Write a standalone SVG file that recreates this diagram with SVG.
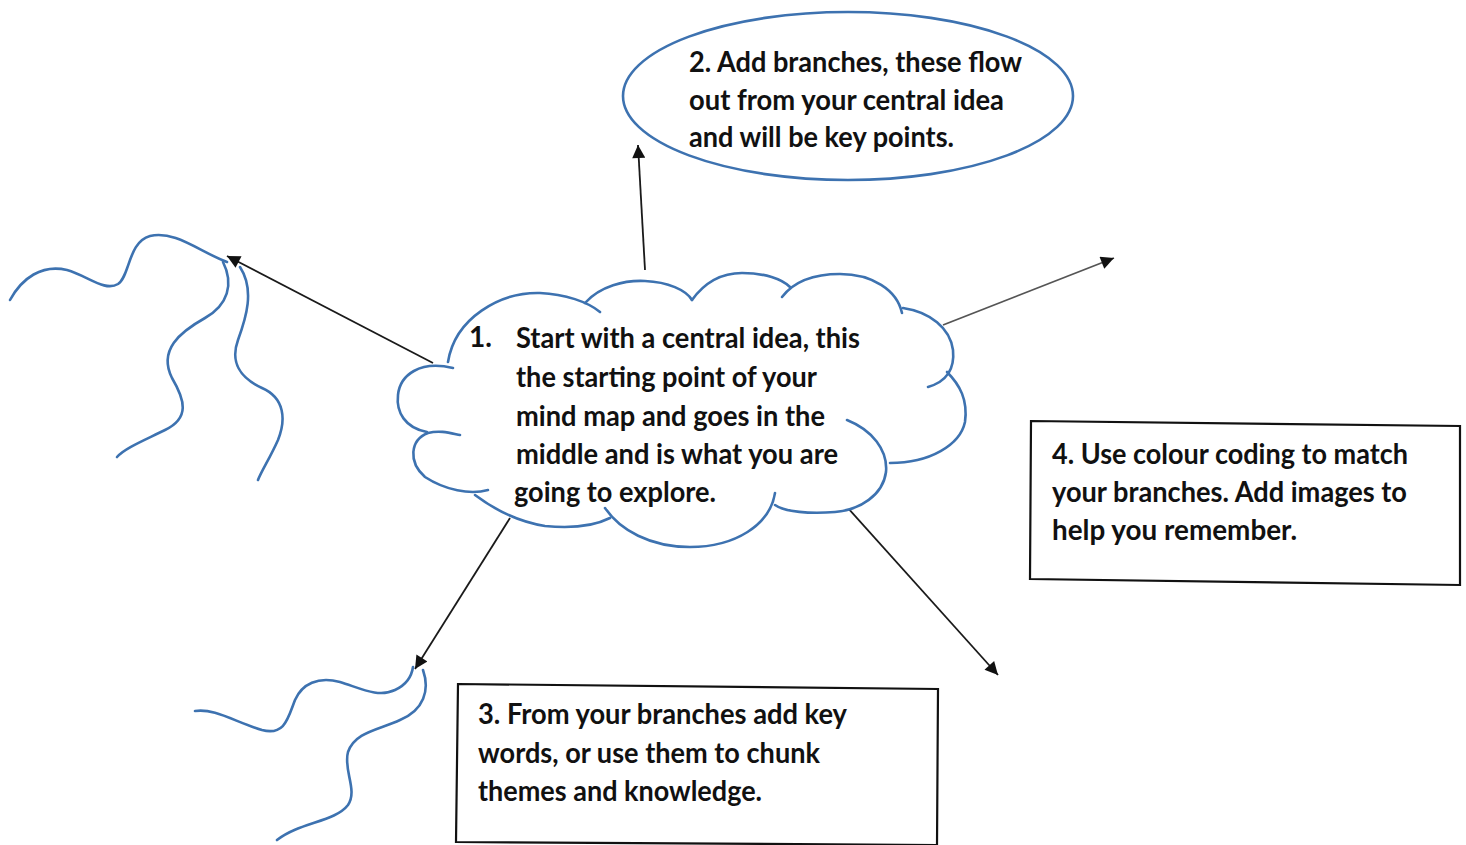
<svg xmlns="http://www.w3.org/2000/svg" width="1466" height="845" viewBox="0 0 1466 845">
<defs>
<marker id="ah" viewBox="0 0 10 10" refX="10" refY="5" markerWidth="17" markerHeight="13" markerUnits="userSpaceOnUse" orient="auto">
<path d="M0,0 L10,5 L0,10 z" fill="#111"/>
</marker>
<style>
.blue{fill:none;stroke:#3d72b0;stroke-width:2.6;stroke-linecap:round}
.conn{fill:none;stroke:#1a1a1a;stroke-width:1.8;marker-end:url(#ah)}
.box{fill:#fff;stroke:#111;stroke-width:2.2}
.t{font-family:Lato,"Open Sans","Liberation Sans",sans-serif;font-weight:700;font-size:28px;fill:#111}
</style>
</defs>
<rect width="1466" height="845" fill="#fff"/>

<g id="squiggles">
<path class="blue" d="M10,300 C22,278 42,264 67,270 C88,276 105,292 118,284 C130,276 128,242 150,236 C175,230 200,252 227,262"/>
<path class="blue" d="M223,262 C234,284 228,305 205,318 C180,332 158,350 172,378 C185,400 190,418 165,430 C145,440 125,448 117,457"/>
<path class="blue" d="M240,267 C255,290 246,318 238,340 C230,362 240,378 262,388 C285,398 286,420 278,440 C270,458 262,470 258,480"/>
<path class="blue" d="M195,711 C215,708 235,722 262,730 C285,736 288,718 295,700 C302,684 318,676 340,682 C360,688 378,698 395,690 C408,684 412,674 413,667"/>
<path class="blue" d="M423,670 C430,690 424,710 400,720 C378,730 355,732 348,752 C343,770 358,790 348,805 C335,822 300,822 277,840"/>
</g>

<g id="connectors">
<line class="conn" x1="645" y1="270" x2="638" y2="145"/>
<line class="conn" x1="433" y1="363" x2="227" y2="256"/>
<line class="conn" x1="943" y1="325" x2="1114" y2="258" style="stroke:#555"/>
<line class="conn" x1="510" y1="518" x2="415" y2="669"/>
<line class="conn" x1="847" y1="507" x2="998" y2="675"/>
</g>

<g id="node-cloud">
<path d="M400,400 C400,370 430,360 453,368 C455,318 500,292 540,293 C565,294 588,302 600,312 L585,303 C600,286 625,280 645,281 C668,282 686,290 692,300 C705,282 722,273 742,273 C765,273 782,279 790,287 L782,297 C795,280 815,274 840,274 C872,274 897,290 902,313 C930,312 950,328 953,350 C955,370 945,382 928,387 L947,372 C960,385 968,400 965,422 C960,445 930,463 890,463 L886,472 C883,495 860,510 835,512 C810,514 785,512 775,505 C770,525 735,547 690,547 C650,547 620,530 605,508 L610,518 C590,528 565,528 545,526 C520,522 495,510 475,495 C470,495 445,490 425,477 C408,462 410,440 428,433 C405,428 396,412 400,400 Z" fill="#fff" stroke="none"/>
<path class="blue" d="M448,362 C455,318 500,292 540,293 C565,294 588,302 600,312"/>
<path class="blue" d="M585,303 C600,286 625,280 645,281 C668,282 686,290 692,300"/>
<path class="blue" d="M692,300 C705,282 722,273 742,273 C765,273 782,279 790,287"/>
<path class="blue" d="M782,297 C795,280 815,274 840,274 C872,274 897,290 902,313"/>
<path class="blue" d="M903,308 C930,312 950,328 953,350 C955,370 945,382 928,387"/>
<path class="blue" d="M947,372 C960,385 968,400 965,422 C960,445 930,463 890,463"/>
<path class="blue" d="M847,420 C872,430 888,450 886,472 C883,495 860,510 835,512 C810,514 785,512 775,505"/>
<path class="blue" d="M775,493 C770,525 735,547 690,547 C650,547 620,530 605,508"/>
<path class="blue" d="M610,518 C590,528 565,528 545,526 C520,522 495,510 475,495"/>
<path class="blue" d="M488,490 C470,495 445,490 425,477 C408,462 410,440 428,433 C440,430 450,433 460,435"/>
<path class="blue" d="M427,432 C405,428 396,412 398,395 C400,375 420,360 453,368"/>
<text class="t" x="469" y="347">1.</text>
<text class="t" x="516" y="348" textLength="344" lengthAdjust="spacingAndGlyphs">Start with a central idea, this</text>
<text class="t" x="516" y="387" textLength="301" lengthAdjust="spacingAndGlyphs">the starting point of your</text>
<text class="t" x="516" y="426" textLength="309" lengthAdjust="spacingAndGlyphs">mind map and goes in the</text>
<text class="t" x="516" y="464" textLength="322" lengthAdjust="spacingAndGlyphs">middle and is what you are</text>
<text class="t" x="514" y="502" textLength="202" lengthAdjust="spacingAndGlyphs">going to explore.</text>
</g>

<g id="node-ellipse">
<ellipse cx="848" cy="96" rx="225" ry="84" fill="#fff" stroke="#3d72b0" stroke-width="2.6"/>
<text class="t" x="689" y="72" textLength="333" lengthAdjust="spacingAndGlyphs">2. Add branches, these flow</text>
<text class="t" x="689" y="110" textLength="315" lengthAdjust="spacingAndGlyphs">out from your central idea</text>
<text class="t" x="689" y="147" textLength="265" lengthAdjust="spacingAndGlyphs">and will be key points.</text>
</g>

<g id="node-box3">
<polygon class="box" points="458,684 938,689 937,845 456,842"/>
<text class="t" x="478" y="724" textLength="369" lengthAdjust="spacingAndGlyphs">3. From your branches add key</text>
<text class="t" x="478" y="763" textLength="342" lengthAdjust="spacingAndGlyphs">words, or use them to chunk</text>
<text class="t" x="478" y="801" textLength="284" lengthAdjust="spacingAndGlyphs">themes and knowledge.</text>
</g>

<g id="node-box4">
<polygon class="box" points="1031,421 1460,426 1460,585 1030,579"/>
<text class="t" x="1052" y="464" textLength="356" lengthAdjust="spacingAndGlyphs">4. Use colour coding to match</text>
<text class="t" x="1052" y="502" textLength="355" lengthAdjust="spacingAndGlyphs">your branches. Add images to</text>
<text class="t" x="1052" y="540" textLength="245" lengthAdjust="spacingAndGlyphs">help you remember.</text>
</g>
</svg>
